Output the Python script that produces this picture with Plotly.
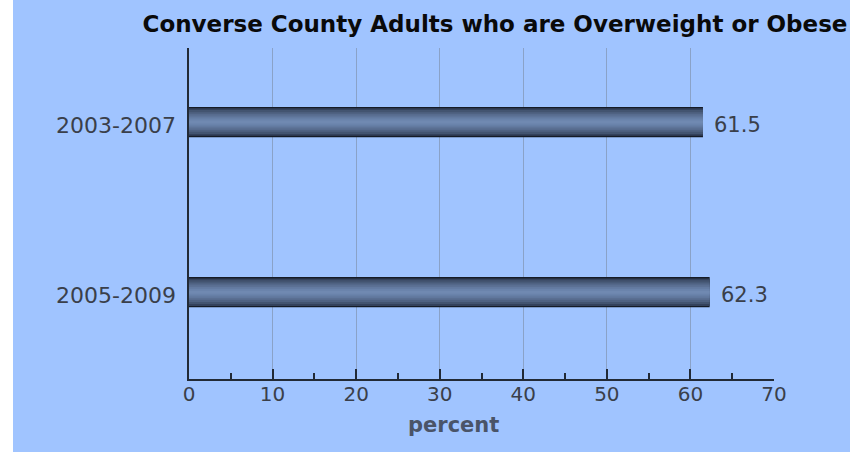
import plotly.graph_objects as go

periods = ["2003-2007", "2005-2009"]
values = [61.5, 62.3]
tick_vals = [0, 10, 20, 30, 40, 50, 60, 70]

BG = "#a0c4ff"
FONT = "DejaVu Sans, Verdana, sans-serif"
TXT = "#3a3f4a"
fig = go.Figure()

# layered bars to mimic vertical gradient
layers = [
    (0.178, "#151b26"),
    (0.162, "#34425c"),
    (0.14, "#435470"),
    (0.115, "#4f6282"),
    (0.09, "#5a6f92"),
    (0.065, "#637aa0"),
    (0.04, "#6a83ab"),
    (0.018, "#7089b1"),
]
for w, c in layers:
    fig.add_trace(go.Bar(
        x=values, y=periods, orientation="h", width=w,
        marker=dict(color=c, line=dict(width=0)),
        hoverinfo="skip", showlegend=False,
    ))

for p, v in zip(periods, values):
    fig.add_annotation(x=v, y=p, text=f"{v}", showarrow=False,
                       xanchor="left", xshift=9, yshift=-3,
                       font=dict(size=21, color=TXT, family=FONT))
    # category labels
    fig.add_annotation(x=0, xref="paper", y=p, text=p, showarrow=False,
                       xanchor="right", xshift=-11, yshift=-3,
                       font=dict(size=22, color=TXT, family=FONT))

fig.add_annotation(x=(453 - 189) / 585, xref="paper", y=(379 - 425) / 331, yref="paper",
                   text="<b>percent</b>", showarrow=False, xanchor="center", yanchor="middle",
                   font=dict(size=21, color="#4a5468", family=FONT))

fig.add_shape(type="rect", xref="paper", yref="paper",
              x0=-0.35, x1=(13 - 189) / 585, y0=-0.3, y1=1.2,
              fillcolor="white", line=dict(width=0), layer="below")

fig.update_layout(
    width=850, height=452,
    margin=dict(l=189, r=76, t=48, b=73),
    paper_bgcolor=BG, plot_bgcolor=BG,
    barmode="overlay",
    font=dict(family=FONT, color=TXT),
    title=dict(text="<b>Converse County Adults who are Overweight or Obese</b>",
               x=495 / 850, xanchor="center", y=1 - 24 / 452, yanchor="middle",
               font=dict(size=23, color="#0a0a0a", family=FONT)),
    xaxis=dict(
        range=[0, 70], tickvals=tick_vals, ticktext=[str(t) for t in tick_vals],
        showgrid=True, gridcolor="#8aa2c8", gridwidth=1,
        zeroline=False, showline=True, linecolor="#222a36", linewidth=2,
        ticks="inside", ticklen=10, tickwidth=2, tickcolor="#222a36",
        minor=dict(dtick=5, ticks="inside", ticklen=6, tickwidth=2, tickcolor="#222a36", showgrid=False),
        tickfont=dict(size=20, color=TXT),
        ticklabelstandoff=-4,
    ),
    yaxis=dict(
        type="category", range=[1.51, -0.435],
        showgrid=False, zeroline=False, showline=True, linecolor="#222a36", linewidth=2,
        ticks="", showticklabels=False,
    ),
)

fig.write_html("out.html")
